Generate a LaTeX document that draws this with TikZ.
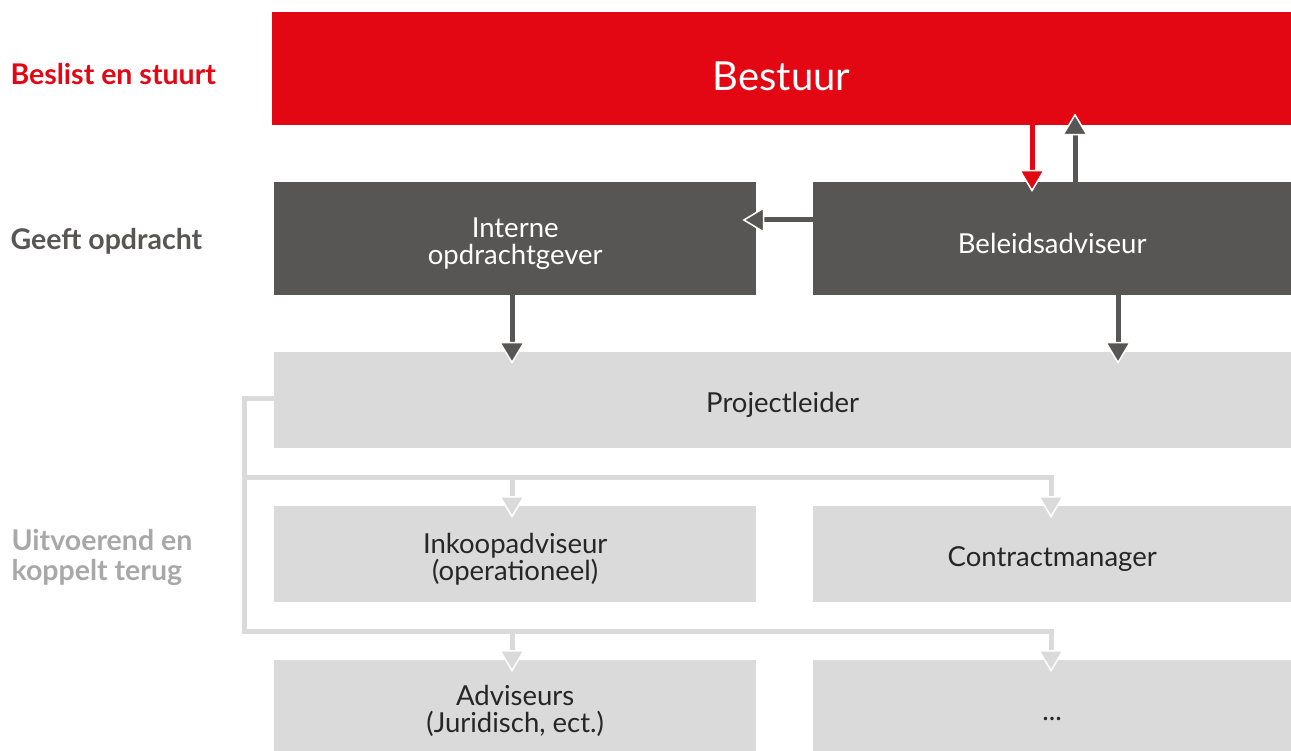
\documentclass[tikz,border=0pt]{standalone}
\usepackage{fontspec}
\setmainfont{Lato}
\usetikzlibrary{arrows.meta}
\definecolor{bred}{HTML}{E30613}
\definecolor{dgray}{HTML}{575655}
\definecolor{lgray}{HTML}{DADADA}
\definecolor{lbl}{HTML}{A8A8A8}
\newcommand{\lowr}{\rule{0pt}{1.1em}}
\tikzset{
  box/.style={draw=none, minimum height=#1, inner sep=0pt, align=center, anchor=north west,
    font=\fontsize{27.5}{27}\selectfont},
  redbox/.style={box=113pt, fill=bred, text=white},
  darkbox/.style={box=113pt, fill=dgray, text=white},
  lightbox/.style={box=96pt, fill=lgray, text=black!85},
  side/.style={anchor=west, align=left, font=\bfseries\fontsize{28.5}{30}\selectfont},
  darr/.style={line width=5pt, draw=#1, -{Triangle[width=26pt,length=22pt,line width=1.5pt,color=white,fill=#1]}},
  conn/.style={line width=5pt, draw=lgray},
}
\begin{document}
\begin{tikzpicture}[x=1pt,y=-1pt]
\useasboundingbox (0,0) rectangle (1291,751);
\node[redbox, minimum width=1019pt, font=\fontsize{40}{44}\selectfont] (bestuur) at (272,12) {\lowr Bestuur};
\node[darkbox, minimum width=482pt] (interne) at (274,182) {\lowr Interne\\opdrachtgever};
\node[darkbox, minimum width=478pt] (beleid) at (813,182) {\lowr Beleidsadviseur};
\node[lightbox, minimum width=1017pt] (project) at (274,352) {\lowr Projectleider};
\node[lightbox, minimum width=482pt] (inkoop) at (274,506) {\lowr Inkoopadviseur\\(operationeel)};
\node[lightbox, minimum width=478pt] (contract) at (813,506) {\lowr Contractmanager};
\node[lightbox, minimum width=482pt, minimum height=91pt] (advis) at (274,660) {\lowr Adviseurs\\(Juridisch, ect.)};
\node[lightbox, minimum width=478pt, minimum height=91pt] (dots) at (813,660) {\lowr ...};

\node[side, text=bred] (l1) at (7,74) {Beslist en stuurt};
\node[side, text=dgray] (l2) at (7,241) {Geeft opdracht};
\node[side, text=lbl] (l3) at (8,557) {Uitvoerend en\\koppelt terug};

% connectors light
\coordinate (c0) at (244,398);
\coordinate (c1) at (244,477);
\coordinate (c2) at (244,631);
\coordinate (r1) at (1051,477);
\coordinate (r2) at (1051,631);
\draw[conn, line join=miter] (project.west |- c0) -- (c0) -- (c2) -- (r2);
\draw[conn] (c1) -- (r1);
\draw[darr=lgray] (inkoop.north -| 512,0) ++(0,-29) -- ++(0,41);
\draw[darr=lgray] (r1) ++(0,-2) -- ++(0,43);
\draw[darr=lgray] (advis.north -| 512,0) ++(0,-29) -- ++(0,41);
\draw[darr=lgray] (r2) ++(0,-2) -- ++(0,43);

% dark connectors
\draw[darr=bred] (bestuur.south -| 1032,0) -- ([yshift=-10pt]beleid.north -| 1032,0);
\draw[darr=dgray] (beleid.north -| 1075,0) -- ([yshift=12pt]bestuur.south -| 1075,0);
\draw[darr=dgray] (beleid.west |- 0,220) -- ([xshift=-14pt]interne.east |- 0,220);
\draw[darr=dgray] (interne.south -| 512,0) -- ([yshift=-12pt]project.north -| 512,0);
\draw[darr=dgray] (beleid.south -| 1118,0) -- ([yshift=-12pt]project.north -| 1118,0);
\end{tikzpicture}
\end{document}
